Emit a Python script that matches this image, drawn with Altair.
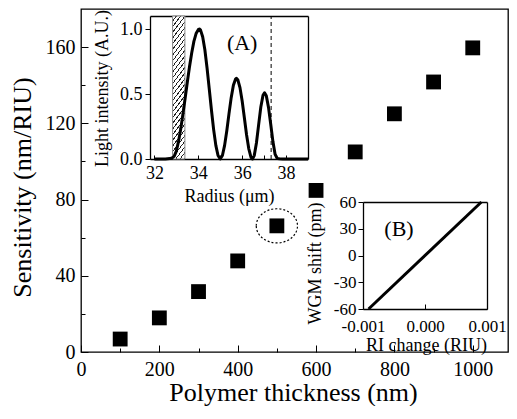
import altair as alt
import pandas as pd

# ---------------- data ----------------
thickness = [100, 200, 300, 400, 500, 600, 700, 800, 900, 1000]
sensitivity = [6.8, 17.9, 31.7, 47.8, 66.2, 84.8, 105.0, 125.0, 141.7, 159.6]
highlight_index = 4

radius = [32.0, 32.5, 32.7, 32.8, 32.9, 33.0, 33.1, 33.2, 33.3, 33.4, 33.5, 33.6,
          33.7, 33.8, 33.9, 34.0, 34.05, 34.1, 34.2, 34.3, 34.4, 34.5, 34.6, 34.7,
          34.8, 34.9, 35.0, 35.1, 35.2, 35.3, 35.4, 35.5, 35.6, 35.7, 35.74, 35.8,
          35.9, 36.0, 36.1, 36.2, 36.3, 36.4, 36.47, 36.55, 36.65, 36.75, 36.85,
          36.95, 37.02, 37.1, 37.2, 37.3, 37.4, 37.5, 37.6, 37.7, 37.85, 38.5, 39.0]
intensity = [0.0, 0.0, 0.003, 0.008, 0.02, 0.06, 0.135, 0.23, 0.345, 0.465, 0.59, 0.71,
             0.815, 0.905, 0.965, 0.995, 1.0, 0.993, 0.94, 0.84, 0.70, 0.54, 0.377, 0.226,
             0.105, 0.027, 0.0, 0.027, 0.105, 0.218, 0.349, 0.472, 0.568, 0.616, 0.62, 0.61,
             0.549, 0.446, 0.317, 0.187, 0.08, 0.014, 0.0, 0.026, 0.123, 0.263, 0.40,
             0.49, 0.51, 0.487, 0.397, 0.269, 0.136, 0.036, 0.004, 0.002, 0.0, 0.0, 0.0]
band_radius = [32.83, 33.39]
dash_radius = 37.32

ri_change = [-0.00091, 0.00091]
wgm_shift = [-60, 60]

panel_labels = ["(A)", "(B)"]
label_a_pos = [36.0, 0.89]
label_b_pos = [-0.00042, 30]

main_x_ticks = [0, 200, 400, 600, 800, 1000]
main_x_minor = [100, 300, 500, 700, 900]
main_y_ticks = [0, 40, 80, 120, 160]
main_y_minor = [20, 60, 100, 140]
a_x_ticks = [32, 34, 36, 38]
a_x_all = [32, 33, 34, 35, 36, 37, 38]
a_y_ticks = [0.0, 0.5, 1.0]
b_x_ticks = [-0.001, 0.0, 0.001]
b_y_ticks = [-60, -30, 0, 30, 60]

# ---------------- layout ----------------
FONT = "Liberation Serif"
W, H = 427, 343
main_x_dom, main_y_dom = [0, 1090], [0, 180]
a_x_dom, a_y_dom = [31.8, 39.0], [0, 1.1]
a_x_rng, a_y_rng = [69, 227], [150, 7]
b_x_dom, b_y_dom = [-0.001, 0.001], [-60, 60]
b_x_rng, b_y_rng = [282, 406], [300, 193]

MINUS = "replace(datum.label, '\u2212', '-')"


def sc(dom, rng=None):
    if rng is None:
        return alt.Scale(domain=dom, nice=False, zero=False)
    return alt.Scale(domain=dom, range=rng, nice=False, zero=False)


def X(field, dom, rng=None, axis=None):
    return alt.X(field, type="quantitative", scale=sc(dom, rng), axis=axis)


def Y(field, dom, rng=None, axis=None):
    return alt.Y(field, type="quantitative", scale=sc(dom, rng), axis=axis)


def tick_axis(orient, values, size, offset):
    return alt.Axis(orient=orient, values=values, tickSize=size, offset=offset,
                    labels=False, domain=False, title=None, grid=False,
                    tickColor="black", tickWidth=1)


def frame_axis(orient, offset):
    return alt.Axis(orient=orient, offset=offset, ticks=False, labels=False,
                    domain=True, domainColor="black", domainWidth=1.3,
                    title=None, grid=False)


df_main = pd.DataFrame({"t": thickness, "s": sensitivity})
df_hi = pd.DataFrame({"t": [thickness[highlight_index]], "s": [sensitivity[highlight_index]]})
df_curve = pd.DataFrame({"r": radius, "i": intensity})
df_band = pd.DataFrame({"lo": [band_radius[0]], "hi": [band_radius[1]],
                        "b": [a_y_dom[0]], "tp": [a_y_dom[1]]})
df_dash = pd.DataFrame({"r": [dash_radius], "b": [a_y_dom[0]], "tp": [a_y_dom[1]]})
df_b = pd.DataFrame({"ri": ri_change, "w": wgm_shift})
df_la = pd.DataFrame({"x": [label_a_pos[0]], "y": [label_a_pos[1]], "txt": [panel_labels[0]]})
df_lb = pd.DataFrame({"x": [label_b_pos[0]], "y": [label_b_pos[1]], "txt": [panel_labels[1]]})

# ---------------- main chart ----------------
main_x_axis = alt.Axis(orient="bottom", values=main_x_ticks, format="d", domain=False,
                       ticks=False, tickSize=0, labelFont=FONT, labelFontSize=20,
                       labelPadding=7, labelFlush=False, labelOverlap=False,
                       title="Polymer thickness (nm)", titleFont=FONT, titleFontSize=26,
                       titleX=212, titleY=48, titleBaseline="alphabetic")
main_y_axis = alt.Axis(orient="left", values=main_y_ticks, format="d", domain=False,
                       ticks=False, tickSize=0, labelFont=FONT, labelFontSize=20,
                       labelPadding=6, labelFlush=False, labelOverlap=False,
                       title="Sensitivity (nm/RIU)", titleFont=FONT, titleFontSize=26,
                       titleX=-59, titleY=178, titleBaseline="middle")

pts = alt.Chart(df_main).mark_square(size=220, color="black", opacity=1).encode(
    x=X("t", main_x_dom, axis=main_x_axis), y=Y("s", main_y_dom, axis=main_y_axis))
tk_major = alt.Chart(df_main).mark_point(opacity=0).encode(
    x=X("t", main_x_dom, axis=tick_axis("bottom", main_x_ticks, 7, -7)),
    y=Y("s", main_y_dom, axis=tick_axis("left", main_y_ticks, 7, -7)))
tk_minor = alt.Chart(df_main).mark_point(opacity=0).encode(
    x=X("t", main_x_dom, axis=tick_axis("bottom", main_x_minor, 4, -4)),
    y=Y("s", main_y_dom, axis=tick_axis("left", main_y_minor, 4, -4)))
ellipse = alt.Chart(df_hi).mark_point(
    shape="M -1 0 A 1 0.83 0 1 1 1 0 A 1 0.83 0 1 1 -1 0 Z",
    size=1700, filled=False, color="black", strokeWidth=1.2, strokeDash=[2, 2], opacity=1
).encode(x=X("t", main_x_dom), y=Y("s", main_y_dom))

# ---------------- inset A ----------------
N = 28
stops = []
for k in range(N):
    stops += [{"offset": k / N, "color": "white"},
              {"offset": (k + 0.74) / N, "color": "white"},
              {"offset": (k + 0.74) / N, "color": "#222"},
              {"offset": (k + 1) / N, "color": "#222"}]
hatch_fill = {"gradient": "linear", "x1": 0, "y1": 0, "x2": 0.124, "y2": 1.099, "stops": stops}

hatch = alt.Chart(df_band).mark_rect(fill=hatch_fill, stroke="#888", strokeWidth=1).encode(
    x=X("lo", a_x_dom, a_x_rng), x2="hi",
    y=Y("b", a_y_dom, a_y_rng), y2="tp")

a_x_axis = alt.Axis(orient="bottom", offset=-193, values=a_x_ticks, ticks=False, tickSize=0,
                    domain=True, domainColor="black", domainWidth=1.3, labelFont=FONT,
                    labelFontSize=18, labelPadding=5, labelFlush=False, labelOverlap=False,
                    title="Radius (μm)", titleFont=FONT, titleFontSize=18, titleX=148,
                    titleY=42, titleBaseline="alphabetic")
a_y_axis = alt.Axis(orient="left", offset=-69, values=a_y_ticks, format=".1f", tickSize=5,
                    tickColor="black", domain=True, domainColor="black", domainWidth=1.3,
                    labelFont=FONT, labelFontSize=18, labelPadding=3, labelFlush=False,
                    labelOverlap=False, title="Light intensity (A.U.)", titleFont=FONT,
                    titleFontSize=18, titleX=-48, titleY=79, titleBaseline="middle")
curve = alt.Chart(df_curve).mark_line(color="black", strokeWidth=3, strokeJoin="round").encode(
    x=X("r", a_x_dom, a_x_rng, a_x_axis), y=Y("i", a_y_dom, a_y_rng, a_y_axis))
a_frame = alt.Chart(df_curve).mark_point(opacity=0).encode(
    x=X("r", a_x_dom, a_x_rng, frame_axis("top", -7)),
    y=Y("i", a_y_dom, a_y_rng, frame_axis("right", -200)))
a_ticks = alt.Chart(df_curve).mark_point(opacity=0).encode(
    x=X("r", a_x_dom, a_x_rng, tick_axis("bottom", a_x_all, 4, -197)),
    y=Y("i", a_y_dom, a_y_rng))
dash = alt.Chart(df_dash).mark_rule(color="black", strokeWidth=1, strokeDash=[4, 3]).encode(
    x=X("r", a_x_dom, a_x_rng), y=Y("b", a_y_dom, a_y_rng), y2="tp")
lab_a = alt.Chart(df_la).mark_text(font=FONT, fontSize=22, color="black").encode(
    x=X("x", a_x_dom, a_x_rng), y=Y("y", a_y_dom, a_y_rng), text="txt:N")

# ---------------- inset B ----------------
b_x_axis = alt.Axis(orient="bottom", offset=-43, values=b_x_ticks, format=".3f",
                    labelExpr=MINUS, ticks=False, tickSize=0, domain=True,
                    domainColor="black", domainWidth=1.3, labelFont=FONT, labelFontSize=17,
                    labelPadding=9, labelFlush=False, labelOverlap=False,
                    title="RI change (RIU)", titleFont=FONT, titleFontSize=18, titleX=345,
                    titleY=41, titleBaseline="alphabetic")
b_y_axis = alt.Axis(orient="left", offset=-282, values=b_y_ticks, format="d",
                    labelExpr=MINUS, tickSize=5, tickColor="black", domain=True,
                    domainColor="black", domainWidth=1.3, labelFont=FONT, labelFontSize=17,
                    labelPadding=2, labelFlush=False, labelOverlap=False,
                    title="WGM shift (pm)", titleFont=FONT, titleFontSize=18, titleX=-48,
                    titleY=254, titleBaseline="middle")
bline = alt.Chart(df_b).mark_line(color="black", strokeWidth=3).encode(
    x=X("ri", b_x_dom, b_x_rng, b_x_axis), y=Y("w", b_y_dom, b_y_rng, b_y_axis))
b_frame = alt.Chart(df_b).mark_point(opacity=0).encode(
    x=X("ri", b_x_dom, b_x_rng, frame_axis("top", -193)),
    y=Y("w", b_y_dom, b_y_rng, frame_axis("right", -21)))
b_ticks = alt.Chart(df_b).mark_point(opacity=0).encode(
    x=X("ri", b_x_dom, b_x_rng, tick_axis("bottom", b_x_ticks, 5, -48)),
    y=Y("w", b_y_dom, b_y_rng))
lab_b = alt.Chart(df_lb).mark_text(font=FONT, fontSize=22, color="black").encode(
    x=X("x", b_x_dom, b_x_rng), y=Y("y", b_y_dom, b_y_rng), text="txt:N")

chart = alt.layer(
    pts, tk_major, tk_minor, ellipse,
    hatch, curve, a_frame, a_ticks, dash, lab_a,
    bline, b_frame, b_ticks, lab_b,
).resolve_scale(x="independent", y="independent").properties(
    width=W, height=H,
    autosize=alt.AutoSizeParams(type="none"),
    padding={"left": 73, "top": 1, "right": 1, "bottom": 54},
).configure_axis(
    labelFont=FONT, titleFont=FONT, labelColor="black", titleColor="black",
    titleFontWeight="normal", grid=False, domainColor="black", tickColor="black",
).configure_view(stroke="black", strokeWidth=1.3)

chart.save("out.html", embed_options={"renderer": "svg", "actions": False})
